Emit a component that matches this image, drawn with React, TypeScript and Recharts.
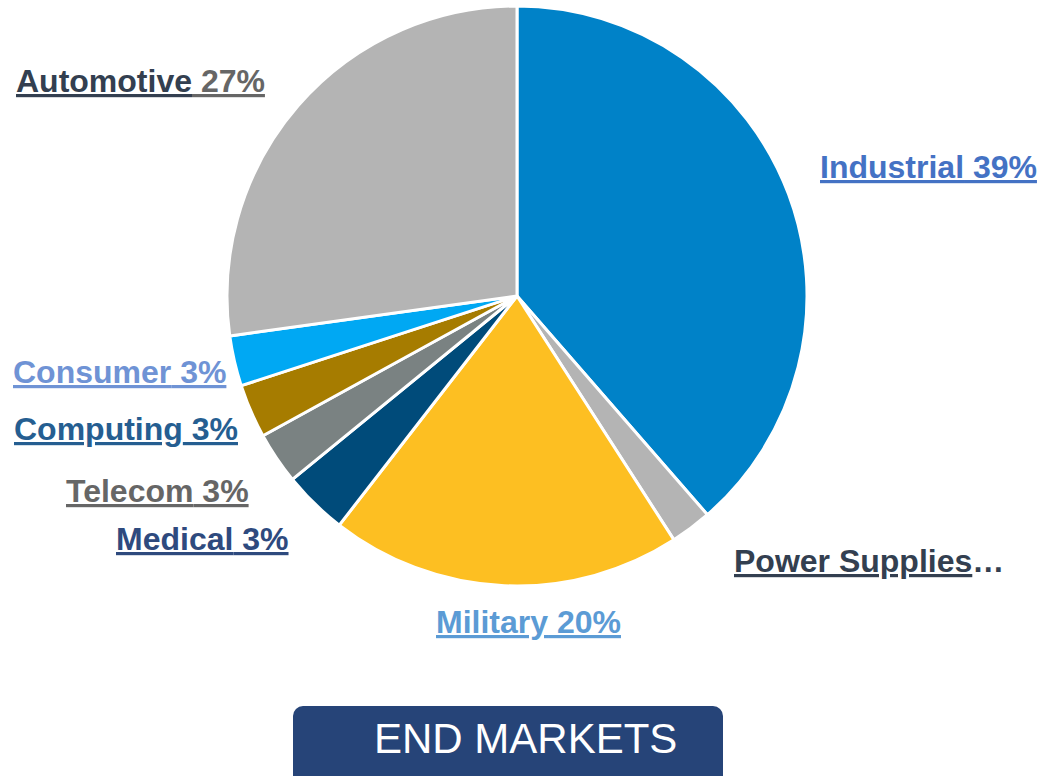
import React from "react";
import { PieChart, Pie, Cell } from "recharts";

// slices, clockwise from 12 o'clock
const markets = [
  "Industrial",
  "Power Supplies",
  "Military",
  "Medical",
  "Telecom",
  "Computing",
  "Consumer",
  "Automotive",
];
const shares = [38.6, 2.3, 19.6, 3.6, 2.9, 3.0, 2.8, 27.2];
const shareLabels = ["39%", "…", "20%", "3%", "3%", "3%", "3%", "27%"];

const sliceColors = [
  "#0082c8",
  "#b4b4b4",
  "#fdbf22",
  "#004b7a",
  "#7a8282",
  "#a67c00",
  "#00a8f3",
  "#b4b4b4",
];
const labelColors = [
  "#4472c4",
  "#333f50",
  "#5b9bd5",
  "#2e4a7e",
  "#666666",
  "#255e91",
  "#6f93d5",
  "#333f50",
];
const pctColors = [
  "#4472c4",
  "#333f50",
  "#5b9bd5",
  "#2e4a7e",
  "#666666",
  "#255e91",
  "#6f93d5",
  "#666666",
];

// label anchor (left x, baseline y) relative to the pie centre
const labelOffsets = [
  [303, -118],
  [217, 276],
  [-81, 337],
  [-401, 254],
  [-451, 206],
  [-503, 144],
  [-504, 87],
  [-501, -204],
];

const CX = 517;
const CY = 296;

const data = markets.map((name, i) => ({ name, value: shares[i] }));

const underline = { textDecoration: "underline" };

function renderLabel(props: any) {
  const { index, cx, cy } = props;
  const [dx, dy] = labelOffsets[index];
  const isPower = markets[index] === "Power Supplies";
  return (
    <text
      x={cx + dx}
      y={cy + dy}
      textAnchor="start"
      fontFamily="Liberation Sans, Arial, sans-serif"
      fontWeight="bold"
      fontSize={32}
    >
      <tspan fill={labelColors[index]} style={underline}>
        {markets[index]}
      </tspan>
      {isPower ? (
        <tspan fill={pctColors[index]}>{shareLabels[index]}</tspan>
      ) : (
        <tspan fill={pctColors[index]} style={underline}>
          {" " + shareLabels[index]}
        </tspan>
      )}
    </text>
  );
}

export default function App() {
  return (
    <div
      style={{
        position: "absolute",
        left: 0,
        top: 0,
        width: 1040,
        height: 776,
        overflow: "hidden",
        background: "#ffffff",
      }}
    >
      <PieChart
        width={1040}
        height={776}
        margin={{ top: 0, right: 0, bottom: 0, left: 0 }}
      >
        <Pie
          data={data}
          dataKey="value"
          nameKey="name"
          cx={CX}
          cy={CY}
          outerRadius={290}
          startAngle={90}
          endAngle={-270}
          stroke="#ffffff"
          strokeWidth={3}
          label={renderLabel}
          labelLine={false}
          isAnimationActive={false}
        >
          {data.map((entry, index) => (
            <Cell key={`cell-${index}`} fill={sliceColors[index]} />
          ))}
        </Pie>
      </PieChart>
      <div
        style={{
          position: "absolute",
          left: 293,
          top: 706,
          width: 430,
          height: 90,
          borderRadius: 10,
          background: "#264478",
          color: "#ffffff",
          fontFamily: "Liberation Sans, Arial, sans-serif",
          fontSize: 42,
          lineHeight: "66px",
          paddingLeft: 81,
          boxSizing: "border-box",
        }}
      >
        END MARKETS
      </div>
    </div>
  );
}
